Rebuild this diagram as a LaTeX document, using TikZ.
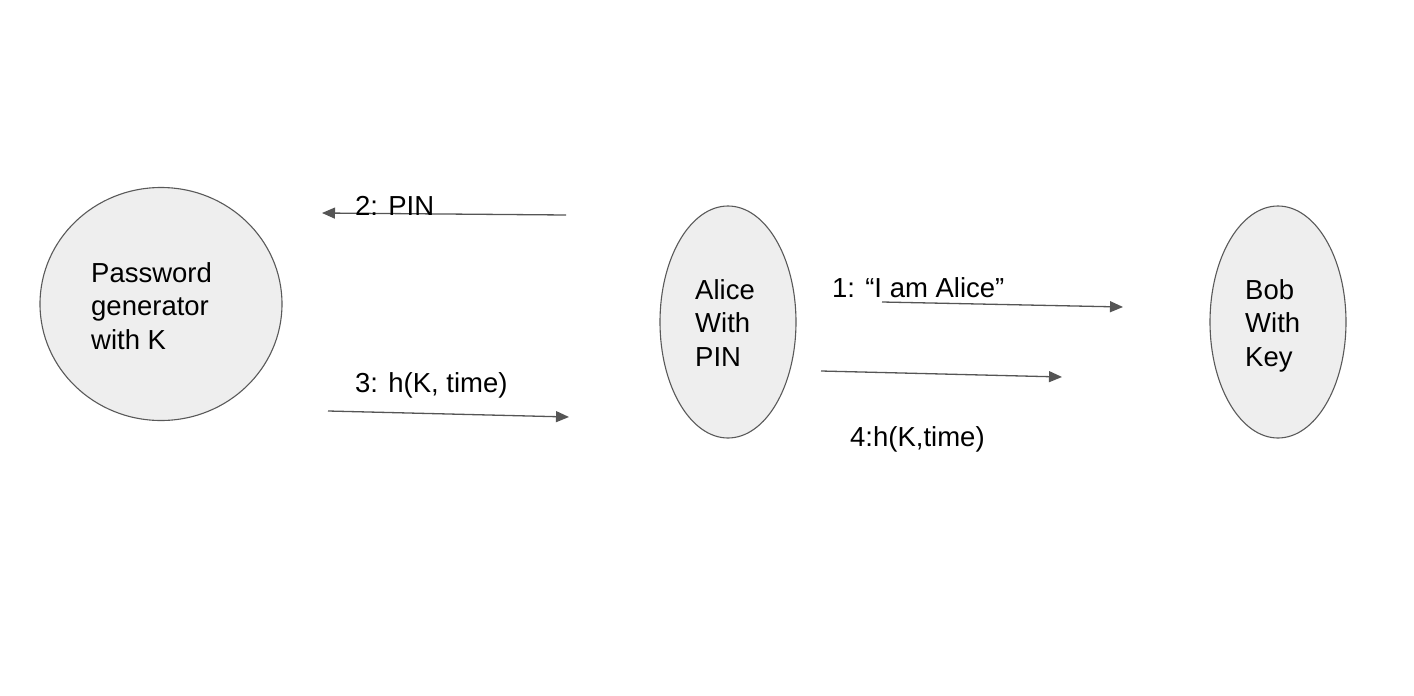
\documentclass[tikz,border=0pt]{standalone}
\usepackage{fontspec}
\setmainfont{Liberation Sans}
\usetikzlibrary{shapes.geometric,arrows.meta}
\definecolor{shapefill}{HTML}{EEEEEE}
\definecolor{shapeline}{HTML}{595959}
\definecolor{arrowcol}{HTML}{555555}
\tikzset{
  blob/.style={ellipse, draw=shapeline, fill=shapefill, line width=1.1pt, inner sep=0pt},
  txt/.style={anchor=base west, inner sep=0pt, align=left, font=\fontsize{27.5}{33.5}\selectfont},
  msg/.style={draw=arrowcol, line width=1.3pt, -{Triangle[length=13pt,width=11pt]}},
}
\begin{document}
\begin{tikzpicture}[x=1pt,y=-1pt]
\useasboundingbox (0,0) rectangle (1414,696);
% shapes
\node[blob, minimum width=242, minimum height=233] (gen) at (161,304) {};
\node[blob, minimum width=136, minimum height=232] (alice) at (728,322) {};
\node[blob, minimum width=136, minimum height=232] (bob) at (1278,322) {};
% texts in shapes (anchored at the baseline of the last line)
\node[txt] (gentxt) at (91,349) {Password\\generator\\with K};
\node[txt] (alicetxt) at (695,366) {Alice\\With\\PIN};
\node[txt] (bobtxt) at (1245,366) {Bob\\With\\Key};
% arrow end points
\coordinate (a2s) at (566,215);
\coordinate (a2e) at (322,213);
\coordinate (a3s) at (328,411);
\coordinate (a3e) at (569,417);
\coordinate (a1s) at (882,302);
\coordinate (a1e) at (1123,307);
\coordinate (a4s) at (821,371);
\coordinate (a4e) at (1062,377);
\draw[msg] (a2s) -- (a2e);
\draw[msg] (a3s) -- (a3e);
\draw[msg] (a1s) -- (a1e);
\draw[msg] (a4s) -- (a4e);
% labels
\node[txt] (l2) at (355,215) {2: PIN};
\node[txt] (l3) at (355,392) {3: h(K, time)};
\node[txt] (l1) at (832,297) {1: “I am Alice”};
\node[txt] (l4) at (850,446) {4:h(K,time)};
\end{tikzpicture}
\end{document}
